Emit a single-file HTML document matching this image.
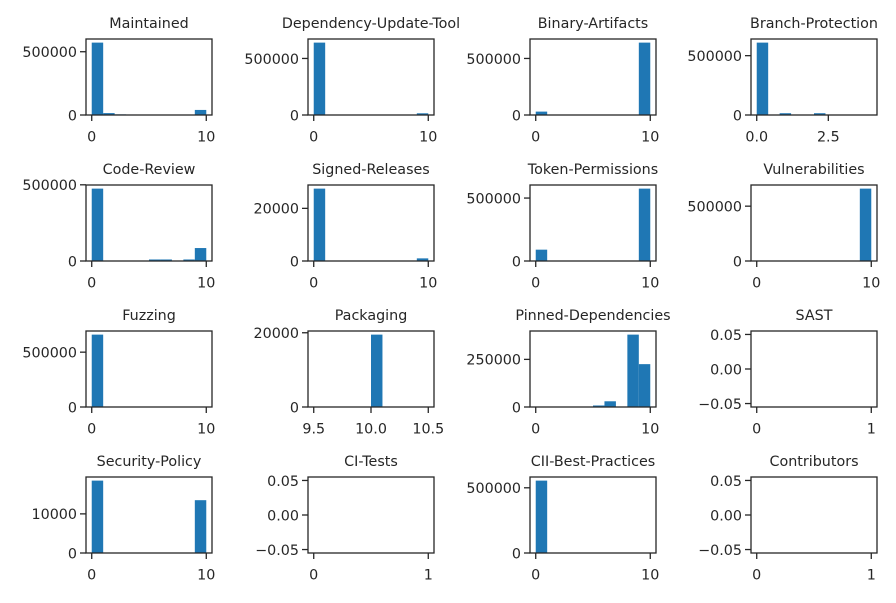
<!DOCTYPE html>
<html><head><meta charset="utf-8"><style>
body{margin:0;background:#fff}
svg text{font-family:"DejaVu Sans","Liberation Sans",sans-serif;font-size:14.3px;fill:#262626}
</style></head><body>
<svg id="fig" width="896" height="598" viewBox="0 0 896 598" xmlns="http://www.w3.org/2000/svg"></svg>
<script>
const titles=["Maintained","Dependency-Update-Tool","Binary-Artifacts","Branch-Protection","Code-Review","Signed-Releases","Token-Permissions","Vulnerabilities","Fuzzing","Packaging","Pinned-Dependencies","SAST","Security-Policy","CI-Tests","CII-Best-Practices","Contributors"];
const binMin=[0,0,0,0,0,0,0,0,0,9.5,0,null,0,null,0,null];
const binMax=[10,10,10,4,10,10,10,10,10,10.5,10,null,10,null,10,null];
const counts=[
[572000,15000,5000,4000,0,3000,0,0,0,40000],
[640000,0,0,0,0,0,0,0,0,15000],
[30000,3000,0,0,0,0,0,0,0,640000],
[610000,0,15000,0,0,15000,0,0,0,0],
[475000,3000,3000,3000,3000,10000,10000,0,10000,85000],
[27500,0,0,0,0,0,0,0,0,1000],
[90000,0,0,0,0,0,0,0,0,575000],
[2000,0,0,0,0,0,0,0,0,660000],
[660000,0,0,0,0,0,0,0,0,1000],
[0,0,0,0,0,19500,0,0,0,0],
[0,0,0,0,0,8000,30000,0,380000,225000],
null,
[18500,0,0,0,0,0,0,0,0,13500],
null,
[555000,0,0,0,0,0,0,0,0,0],
null];
const xTicks=[[0,10],[0,10],[0,10],[0,2.5],[0,10],[0,10],[0,10],[0,10],[0,10],[9.5,10,10.5],[0,10],[0,1],[0,10],[0,1],[0,10],[0,1]];
const yTicks=[[0,500000],[0,500000],[0,500000],[0,500000],[0,500000],[0,20000],[0,500000],[0,500000],[0,500000],[0,20000],[0,250000],[-0.05,0,0.05],[0,10000],[-0.05,0,0.05],[0,500000],[-0.05,0,0.05]];
const xFmt=[null,null,null,v=>v.toFixed(1),null,null,null,null,null,v=>v.toFixed(1),null,null,null,null,null,null];

const svg=document.getElementById('fig');
const NS="http://www.w3.org/2000/svg";
function mk(tag,attrs,parent){const e=document.createElementNS(NS,tag);for(const k in attrs)e.setAttribute(k,attrs[k]);parent.appendChild(e);return e;}
const colL=[86,308,530,751],rowT=[39,185,331,477],W=126,H=76;
titles.forEach((t,i)=>{
  const L=colL[i%4],T=rowT[Math.floor(i/4)];
  const g=mk('g',{},svg);
  
  
  let x0,x1,y0,y1;
  if(counts[i]){const pad=(binMax[i]-binMin[i])*0.05;x0=binMin[i]-pad;x1=binMax[i]+pad;y0=0;y1=Math.max(...counts[i])*1.05;}
  else{x0=-0.05;x1=1.05;y0=-0.055;y1=0.055;}
  const X=v=>L+(v-x0)/(x1-x0)*W, Y=v=>T+H-(v-y0)/(y1-y0)*H;
  if(counts[i]){const bw=(binMax[i]-binMin[i])/10;
    counts[i].forEach((c,b)=>{if(c<=0)return;const xa=X(binMin[i]+b*bw),xb=X(binMin[i]+(b+1)*bw);
      const r=mk('rect',{x:xa,y:Y(c),width:xb-xa,height:Y(0)-Y(c),fill:'#1f77b4'},g);
      
      });}
  const fr=mk('rect',{x:L,y:T,width:W,height:H,fill:'none',stroke:'#262626','stroke-width':1.3},g);
  
  
  const tt=mk('text',{x:L+W/2,y:T-11,'text-anchor':'middle','font-size':'14.8'},g);tt.textContent=t;
  
  
  xTicks[i].forEach(v=>{const x=X(v);mk('line',{x1:x,x2:x,y1:T+H,y2:T+H+6,stroke:'#262626','stroke-width':1.3},g);
    const tx=mk('text',{x:x,y:T+H+26.5,'text-anchor':'middle'},g);tx.textContent=xFmt[i]?xFmt[i](v):String(v);
    
    });
  yTicks[i].forEach(v=>{const y=Y(v);mk('line',{x1:L-6,x2:L,y1:y,y2:y,stroke:'#262626','stroke-width':1.3},g);
    const ty=mk('text',{x:L-9,y:y+5.3,'text-anchor':'end'},g);
    ty.textContent=counts[i]?String(v):(v<0?'\u22120.05':v.toFixed(2));
    
    });
});
</script>
</body></html>
